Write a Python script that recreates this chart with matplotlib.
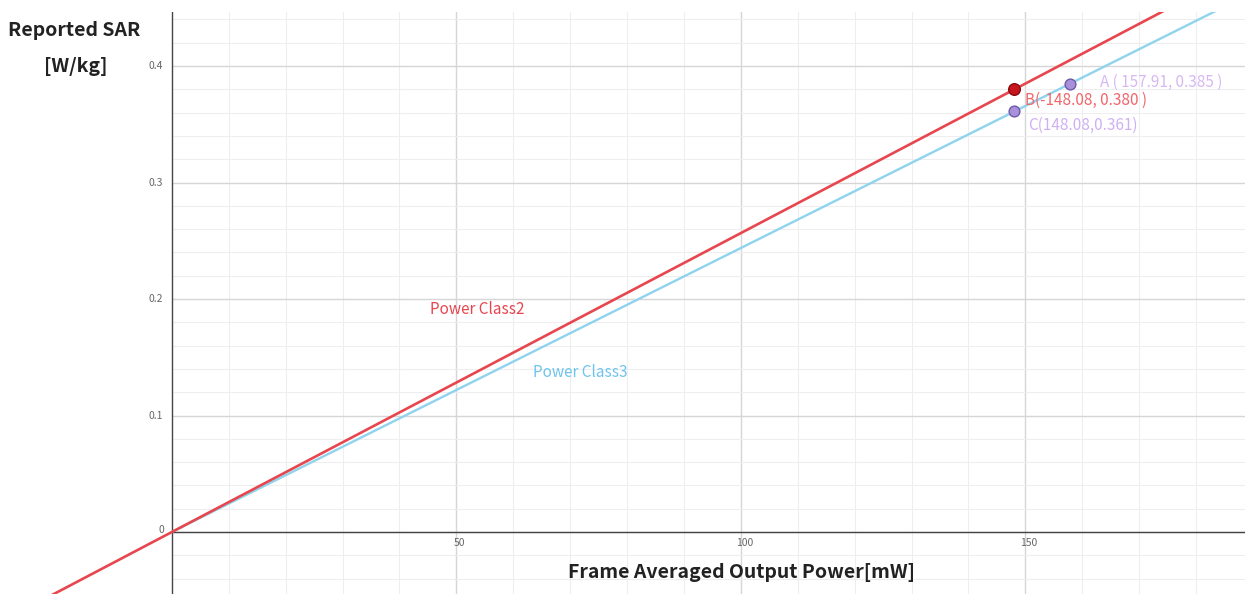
import matplotlib.pyplot as plt
import numpy as np

plt.rcParams['font.family'] = ['Noto Sans CJK KR', 'DejaVu Sans']

# line end points (mW, W/kg)
class2_x = [-40, 200]
class3_x = [0, 200]
slope_class2 = 0.380 / 148.08
slope_class3 = 0.385 / 157.91

point_names = ["A", "B", "C"]
point_x = [157.91, 148.08, 148.08]
point_y = [0.385, 0.380, 0.361]
point_labels = ["A ( 157.91, 0.385 )", "B(-148.08, 0.380 )", "C(148.08,0.361)"]

x_ticks = [50, 100, 150]
y_ticks = [0.1, 0.2, 0.3, 0.4]

xmin, xmax = -30.2, 188.6
ymin, ymax = -0.0532, 0.4464

fig = plt.figure(figsize=(12.45, 5.94), dpi=100)
ax = fig.add_axes([0, 0, 1, 582 / 594])
ax.set_xlim(xmin, xmax)
ax.set_ylim(ymin, ymax)

# grid only on the positive x side
for gx in np.arange(10, 190, 10):
    major = gx % 50 == 0
    ax.axvline(gx, color="#d6d6d6" if major else "#eeeeee",
               lw=1.0 if major else 0.8, zorder=0)
for gy in np.arange(-0.04, 0.46, 0.02):
    major = abs(gy * 10 - round(gy * 10)) < 1e-6
    ax.hlines(gy, 0, xmax, color="#d6d6d6" if major else "#eeeeee",
              lw=1.0 if major else 0.8, zorder=0)

# axes lines (x axis only to the right of the origin)
ax.hlines(0, 0, xmax, color="#444444", lw=1.0, zorder=1)
ax.axvline(0, color="#444444", lw=1.0, zorder=1)
for s in ax.spines.values():
    s.set_visible(False)
ax.set_xticks([])
ax.set_yticks([])

for t in x_ticks:
    ax.text(t + 0.6, -0.0055, str(t), ha="center", va="top", fontsize=7.5, color="#666666")
for t in y_ticks:
    ax.text(-1.6, t, f"{t:.1f}", ha="right", va="center", fontsize=7.5, color="#666666")
ax.text(-1.4, 0.0015, "0", ha="right", va="center", fontsize=7.5, color="#666666")

# lines
cx = np.array(class3_x)
ax.plot(cx, slope_class3 * cx, color="#8fd3ee", lw=1.7, zorder=2)
rx = np.array(class2_x)
ax.plot(rx, slope_class2 * rx, color="#e8464e", lw=1.9, zorder=3)

ax.text(53.6, 0.1906, "Power Class2", color="#e8464e", fontsize=11, ha="center", va="center")
ax.text(71.7, 0.137, "Power Class3", color="#6ec4ec", fontsize=11, ha="center", va="center")

# points
ax.scatter(point_x[1:2], point_y[1:2], s=70, color="#c8141c", edgecolor="#8a0a10", zorder=5)
ax.scatter([point_x[0], point_x[2]], [point_y[0], point_y[2]], s=60,
           color="#a890da", edgecolor="#6d5aa8", zorder=5)

ax.text(163.1, 0.386, point_labels[0], color="#d7b8f3",
        fontsize=11, ha="left", va="center")
ax.text(150.0, 0.371, point_labels[1], color="#f0666b",
        fontsize=11, ha="left", va="center")
ax.text(150.4, 0.349, point_labels[2], color="#cfb0f3",
        fontsize=11, ha="left", va="center")

# axis titles
fig.text(74 / 1245, 1 - 30 / 594, "Reported SAR", fontsize=14, fontweight="bold",
         ha="center", va="center", color="#222222")
fig.text(76 / 1245, 1 - 66 / 594, "[W/kg]", fontsize=14, fontweight="bold",
         ha="center", va="center", color="#222222")
fig.text(741 / 1245, 1 - 573 / 594, "Frame Averaged Output Power[mW]", fontsize=14,
         fontweight="bold", ha="center", va="center", color="#222222")

fig.savefig("out.png", dpi=100)
